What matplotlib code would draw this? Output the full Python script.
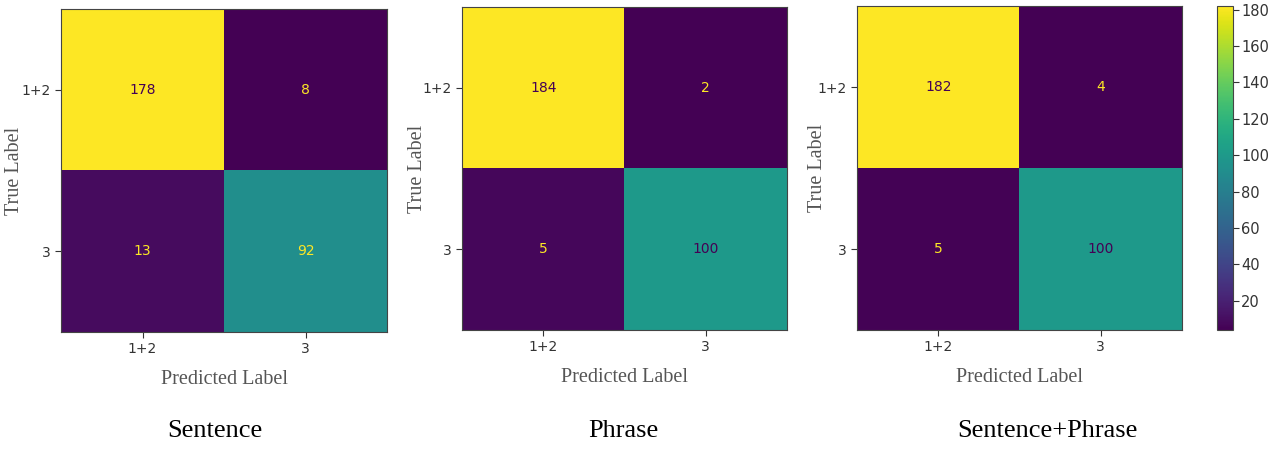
import numpy as np
import matplotlib
matplotlib.use("Agg")
import matplotlib.pyplot as plt

W, H = 1277, 449
DPI = 100

class_labels = ["1+2", "3"]
panel_titles = ["Sentence", "Phrase", "Sentence+Phrase"]
cm_sentence = [[178, 8], [13, 92]]
cm_phrase = [[184, 2], [5, 100]]
cm_both = [[182, 4], [5, 100]]
matrices = [cm_sentence, cm_phrase, cm_both]

# axes boxes in pixels: (left, top, right, bottom)
boxes = [(61, 9, 387, 332), (462, 7, 787, 330), (857, 6, 1182, 330)]
ylabel_x = [15, 417, 817]
title_x = [215, 623, 1047]
cbar_box = (1217, 6, 1233, 330)

def to_fig(b):
    l, t, r, bt = b
    return [l / W, 1 - bt / H, (r - l) / W, (bt - t) / H]

fig = plt.figure(figsize=(W / DPI, H / DPI), dpi=DPI)
fig.patch.set_facecolor("white")

serif = ["Liberation Serif", "DejaVu Serif"]
cmap = plt.get_cmap("viridis")
im = None
for i, (m, b) in enumerate(zip(matrices, boxes)):
    arr = np.array(m)
    ax = fig.add_axes(to_fig(b))
    im = ax.imshow(arr, cmap=cmap, interpolation="nearest", aspect="auto")
    thresh = (arr.max() + arr.min()) / 2.0
    for r in range(arr.shape[0]):
        for c in range(arr.shape[1]):
            col = cmap(1.0) if arr[r, c] < thresh else cmap(0.0)
            ax.text(c, r, str(arr[r, c]), ha="center", va="center",
                    color=col, fontsize=10)
    ax.set_xticks(range(len(class_labels)))
    ax.set_xticklabels(class_labels)
    ax.set_yticks(range(len(class_labels)))
    ax.set_yticklabels(class_labels)
    ax.tick_params(labelsize=10, colors="#333333", length=4)
    for s in ax.spines.values():
        s.set_color("#444444")
    ax.set_xlabel("Predicted Label", family=serif, fontsize=14.5,
                  color="#555555", labelpad=10)
    fig.text(ylabel_x[i] / W, 1 - ((b[1] + b[3]) / 2) / H, "True Label",
             rotation=90, ha="center", va="center", family=serif,
             fontsize=14.5, color="#555555")
    fig.text(title_x[i] / W, 1 - 431 / H, panel_titles[i], ha="center",
             va="center", family=serif, fontsize=19, color="black")

cax = fig.add_axes(to_fig(cbar_box))
cb = fig.colorbar(im, cax=cax)
cb.set_ticks([20, 40, 60, 80, 100, 120, 140, 160, 180])
cax.tick_params(labelsize=10.5, colors="#333333", length=4, pad=2)
cb.outline.set_edgecolor("#444444")

fig.savefig("out.png", dpi=DPI)
